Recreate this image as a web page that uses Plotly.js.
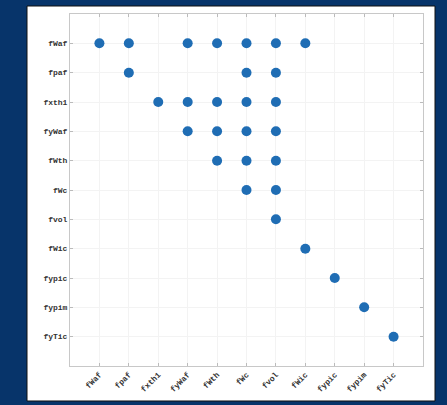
<!DOCTYPE html>
<html>
<head>
<meta charset="utf-8">
<script src="https://cdn.plot.ly/plotly-3.0.1.min.js"></script>
<style>html,body{margin:0;padding:0;background:#07346a;}</style>
</head>
<body>
<div id="chart" style="width:447px;height:405px;"></div>
<script>
const labels = ["fWaf","fpaf","fxth1","fyWaf","fWth","fWc","fvol","fWic","fypic","fypim","fyTic"];
// pairs: row label -> column labels with a dot
const rowLabels = ["fWaf","fWaf","fWaf","fWaf","fWaf","fWaf","fWaf",
                   "fpaf","fpaf","fpaf",
                   "fxth1","fxth1","fxth1","fxth1","fxth1",
                   "fyWaf","fyWaf","fyWaf","fyWaf",
                   "fWth","fWth","fWth",
                   "fWc","fWc",
                   "fvol",
                   "fWic",
                   "fypic",
                   "fypim",
                   "fyTic"];
const colLabels = ["fWaf","fpaf","fyWaf","fWth","fWc","fvol","fWic",
                   "fpaf","fWc","fvol",
                   "fxth1","fyWaf","fWth","fWc","fvol",
                   "fyWaf","fWth","fWc","fvol",
                   "fWth","fWc","fvol",
                   "fWc","fvol",
                   "fvol",
                   "fWic",
                   "fypic",
                   "fypim",
                   "fyTic"];

const tickFont = {family: "Liberation Mono, DejaVu Sans Mono, monospace", size: 8, color: "#333", weight: "bold"};
const axisCommon = {
  type: "category",
  categoryorder: "array",
  categoryarray: labels,
  showline: true, linecolor: "#c8c8c8", linewidth: 1, mirror: "ticks",
  ticks: "inside", ticklen: 3, tickcolor: "#bbbbbb",
  showgrid: true, gridcolor: "#f3f3f3", gridwidth: 1,
  zeroline: false,
  tickfont: tickFont
};

const trace = {
  type: "scatter", mode: "markers",
  x: colLabels, y: rowLabels,
  marker: {size: 10, color: "#1f6db4"},
  hoverinfo: "x+y"
};

const layout = {
  width: 447, height: 405,
  paper_bgcolor: "#07346a",
  plot_bgcolor: "#ffffff",
  margin: {l: 70, r: 24, t: 14, b: 39},
  showlegend: false,
  xaxis: Object.assign({}, axisCommon, {range: [-1, 11], tickangle: -45}),
  yaxis: Object.assign({}, axisCommon, {range: [11, -1]}),
  shapes: [{
    type: "rect", xref: "paper", yref: "paper", layer: "below",
    x0: -0.1218, x1: 1.034, y0: -0.0994, y1: 1.0227,
    fillcolor: "#ffffff", line: {color: "#111111", width: 1}
  }]
};

Plotly.newPlot("chart", [trace], layout, {displayModeBar: false, staticPlot: true});
</script>
</body>
</html>
